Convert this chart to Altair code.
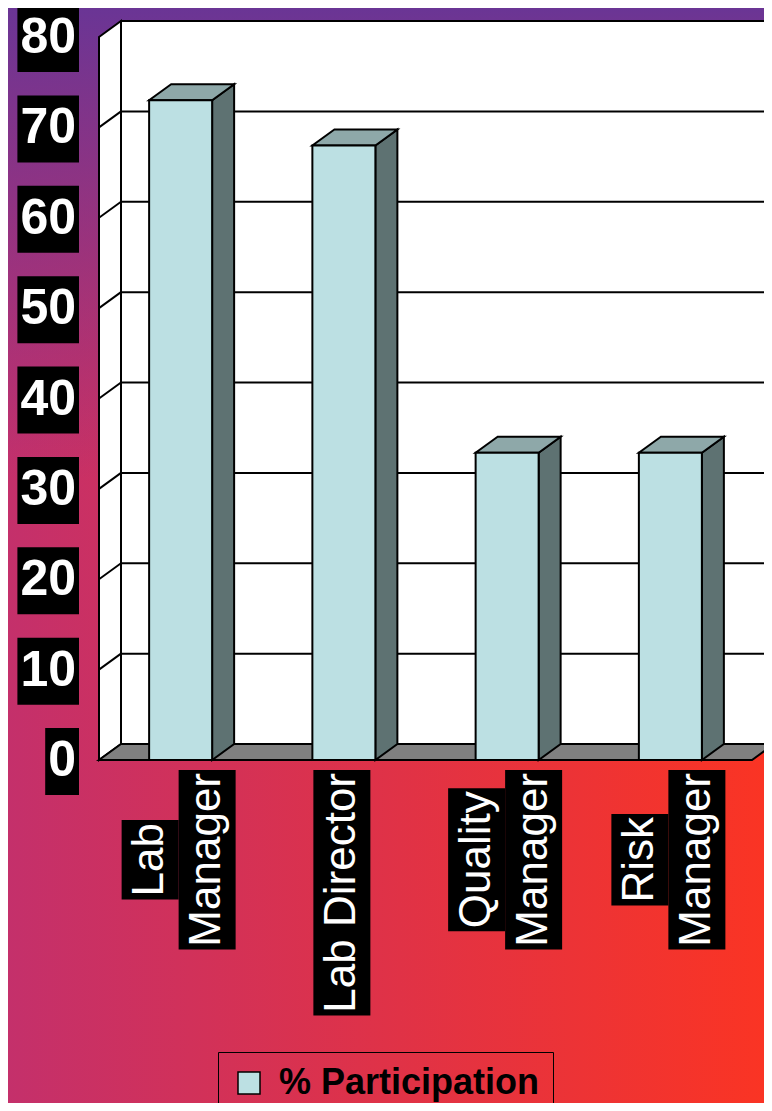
import altair as alt
import pandas as pd

# ---------------- data ----------------
categories = ["Lab Manager", "Lab Director", "Quality Manager", "Risk Manager"]
category_lines = [["Lab", "Manager"], ["Lab Director"], ["Quality", "Manager"], ["Risk", "Manager"]]
participation = [73, 68, 34, 34]
y_tick_values = [0, 10, 20, 30, 40, 50, 60, 70, 80]
series_label = "% Participation"

# ---------------- layout / style ----------------
W, H = 653, 723
PAD = {"left": 91, "top": 29, "right": 12, "bottom": 343}
X_MAX, Y_MAX = len(categories), 80
PX = X_MAX / W          # data units per pixel (x)
PY = Y_MAX / H          # data units per pixel (y)
DX, DY = 22 * PX, 16 * PY   # 3-D depth
HALF = 31.5 * PX

FRONT, TOP, SIDE, FLOOR = "#bce0e3", "#8ea8a9", "#5e7272", "#808080"
LW = 2
FONT = "Liberation Sans"

ARIAL = {" ": 278, "L": 556, "a": 556, "b": 556, "M": 833, "n": 556, "g": 556, "e": 556,
         "r": 333, "D": 722, "i": 222, "c": 500, "t": 278, "o": 556, "Q": 778, "u": 556,
         "l": 222, "y": 500, "R": 722, "s": 500, "k": 500}


def text_px(s, size):
    return sum(ARIAL.get(ch, 556) for ch in s) * size / 1000.0


xs = alt.Scale(domain=[0, X_MAX], nice=False, zero=False)
ys = alt.Scale(domain=[0, Y_MAX], nice=False, zero=False)


def qx(f, axis=None):
    return alt.X(f"{f}:Q", scale=xs, axis=axis, stack=None)


def qy(f, axis=None):
    return alt.Y(f"{f}:Q", scale=ys, axis=axis, stack=None)


# ---------------- background ----------------
one = pd.DataFrame({"k": [0]})
bg_pos = dict(x=alt.value(-PAD["left"]), x2=alt.value(W + PAD["right"]),
              y=alt.value(-PAD["top"]), y2=alt.value(H + PAD["bottom"]))
bg1 = alt.Chart(one).mark_rect(fill=alt.LinearGradient(
    gradient="linear", x1=0, y1=0, x2=1, y2=0,
    stops=[alt.GradientStop(color="#c4306b", offset=0),
           alt.GradientStop(color="#fa3424", offset=1)])).encode(**bg_pos)
bg2 = alt.Chart(one).mark_rect(fill=alt.LinearGradient(
    gradient="linear", x1=0, y1=0, x2=0, y2=1,
    stops=[alt.GradientStop(color="rgba(106,53,149,1)", offset=0),
           alt.GradientStop(color="rgba(106,53,149,0.85)", offset=0.06),
           alt.GradientStop(color="rgba(106,53,149,0)", offset=0.43)])).encode(**bg_pos)

# ---------------- walls & floor ----------------
back = pd.DataFrame({"x0": [DX], "x1": [X_MAX + DX], "y0": [DY], "y1": [Y_MAX + DY]})
back_wall = alt.Chart(back).mark_rect(fill="white", stroke="black", strokeWidth=LW).encode(
    x=qx("x0"), x2=alt.X2("x1"), y=qy("y0"), y2=alt.Y2("y1"))

left = pd.DataFrame({"x": [0, DX], "y": [Y_MAX, Y_MAX + DY], "y2": [0, DY], "g": ["w", "w"]})
left_wall = alt.Chart(left).mark_area(orient="vertical", fill="white", stroke="black",
                                      strokeWidth=LW, opacity=1).encode(
    x=qx("x"), y=qy("y"), y2=alt.Y2("y2"), detail="g:N")

floor_df = pd.DataFrame({"y": [0, DY], "x": [0, DX], "x2": [X_MAX, X_MAX + DX], "g": ["f", "f"]})
floor = alt.Chart(floor_df).mark_area(orient="horizontal", fill=FLOOR, stroke="black",
                                      strokeWidth=LW, opacity=1).encode(
    y=qy("y"), x=qx("x"), x2=alt.X2("x2"), detail="g:N")

grid_vals = [v for v in y_tick_values if 0 < v < Y_MAX]
grid_df = pd.DataFrame({"v": grid_vals})
grid_df["yb"] = grid_df["v"] + DY
grid_df["xa"] = DX
grid_df["xb"] = X_MAX + DX
grid_df["x0"] = 0.0
back_grid = alt.Chart(grid_df).mark_rule(color="black", strokeWidth=LW).encode(
    x=qx("xa"), x2=alt.X2("xb"), y=qy("yb"))
side_grid = alt.Chart(grid_df).mark_rule(color="black", strokeWidth=LW).encode(
    x=qx("x0"), x2=alt.X2("xa"), y=qy("v"), y2=alt.Y2("yb"))

# ---------------- bars ----------------
bars = pd.DataFrame({"name": categories, "value": participation, "i": range(len(categories))})
bars["x0"] = bars["i"] + 0.5 - HALF
bars["x1"] = bars["i"] + 0.5 + HALF
bars["zero"] = 0.0
bars["series"] = series_label

side_rows, top_rows = [], []
for rec in bars.to_dict("records"):
    nm, v, x0, x1 = rec["name"], rec["value"], rec["x0"], rec["x1"]
    side_rows.append({"name": nm, "x": x1, "y": v, "y2": 0.0})
    side_rows.append({"name": nm, "x": x1 + DX, "y": v + DY, "y2": DY})
    top_rows.append({"name": nm, "y": v, "xa": x0, "xb": x1})
    top_rows.append({"name": nm, "y": v + DY, "xa": x0 + DX, "xb": x1 + DX})

bar_side = alt.Chart(pd.DataFrame(side_rows)).mark_area(
    orient="vertical", fill=SIDE, stroke="black", strokeWidth=LW, opacity=1).encode(
    x=qx("x"), y=qy("y"), y2=alt.Y2("y2"), detail="name:N")
bar_top = alt.Chart(pd.DataFrame(top_rows)).mark_area(
    orient="horizontal", fill=TOP, stroke="black", strokeWidth=LW, opacity=1).encode(
    y=qy("y"), x=qx("xa"), x2=alt.X2("xb"), detail="name:N")

x_axis = alt.Axis(values=list(range(X_MAX + 1)), labels=False, grid=False, title=None,
                  tickSize=12, tickWidth=LW, tickColor="black", domainColor="black",
                  domainWidth=LW, zindex=1)
y_axis = alt.Axis(values=y_tick_values, labels=False, grid=False, title=None,
                  tickSize=12, tickWidth=LW, tickColor="black", domainColor="black",
                  domainWidth=LW, zindex=1)

bar_front = alt.Chart(bars).mark_rect(stroke="black", strokeWidth=LW, opacity=1).encode(
    x=qx("x0", x_axis), x2=alt.X2("x1"), y=qy("value", y_axis), y2=alt.Y2("zero"),
    color=alt.Color("series:N", scale=alt.Scale(domain=[series_label], range=[FRONT]),
                    legend=alt.Legend(orient="none", legendX=119, legendY=1015, title=None,
                                      symbolType="square", symbolSize=484,
                                      symbolStrokeColor="black", symbolStrokeWidth=1.5,
                                      labelFont=FONT, labelFontSize=36, labelFontWeight="bold",
                                      labelColor="black", labelLimit=600, labelOffset=12,
                                      strokeColor="black", padding=13)))

# ---------------- y labels with black boxes ----------------
YFS = 50
yl = pd.DataFrame({"v": y_tick_values})
yl["label"] = yl["v"].astype(str)
yl["w"] = yl["label"].str.len() * 0.556 * YFS + 6
yl["bx0"] = -(20 + yl["w"]) * PX
yl["bx1"] = -20 * PX
yl["by0"] = yl["v"] - 35 * PY
yl["by1"] = yl["v"] + 32 * PY
yl["tx"] = -23 * PX
ybox = alt.Chart(yl).mark_rect(fill="black").encode(
    x=qx("bx0"), x2=alt.X2("bx1"), y=qy("by0"), y2=alt.Y2("by1"))
ytext = alt.Chart(yl).mark_text(align="right", baseline="middle", font=FONT, fontWeight="bold",
                                fontSize=YFS, color="white", dy=1).encode(
    x=qx("tx"), y=qy("v"), text="label:N")

# ---------------- x labels with black boxes ----------------
XFS = 44
LINE_H = 57
rows = []
for i, lines in enumerate(category_lines):
    lens = [text_px(s, XFS) + 6 for s in lines]
    mx = max(lens)
    n = len(lines)
    for k, (s, ln) in enumerate(zip(lines, lens)):
        off = -2 + (k - (n - 1) / 2) * LINE_H
        rows.append({"label": s,
                     "tx": i + 0.5 + off * PX,
                     "ty": -(10 + mx / 2) * PY,
                     "bx0": i + 0.5 + (off - LINE_H / 2) * PX,
                     "bx1": i + 0.5 + (off + LINE_H / 2) * PX,
                     "by0": -(10 + (mx - ln) / 2) * PY,
                     "by1": -(10 + (mx + ln) / 2) * PY})
xl = pd.DataFrame(rows)
xbox = alt.Chart(xl).mark_rect(fill="black").encode(
    x=qx("bx0"), x2=alt.X2("bx1"), y=qy("by0"), y2=alt.Y2("by1"))
xtext = alt.Chart(xl).mark_text(angle=270, align="center", baseline="middle", font=FONT,
                                fontSize=XFS, color="white").encode(
    x=qx("tx"), y=qy("ty"), text="label:N")

chart = alt.layer(
    bg1, bg2, back_wall, left_wall, floor, back_grid, side_grid,
    bar_side, bar_top, bar_front, ybox, ytext, xbox, xtext
).properties(
    width=W, height=H, padding=PAD, autosize=alt.AutoSizeParams(type="none")
).configure_view(strokeWidth=0)

chart.save("out.html", embed_options={"renderer": "svg", "actions": False})
